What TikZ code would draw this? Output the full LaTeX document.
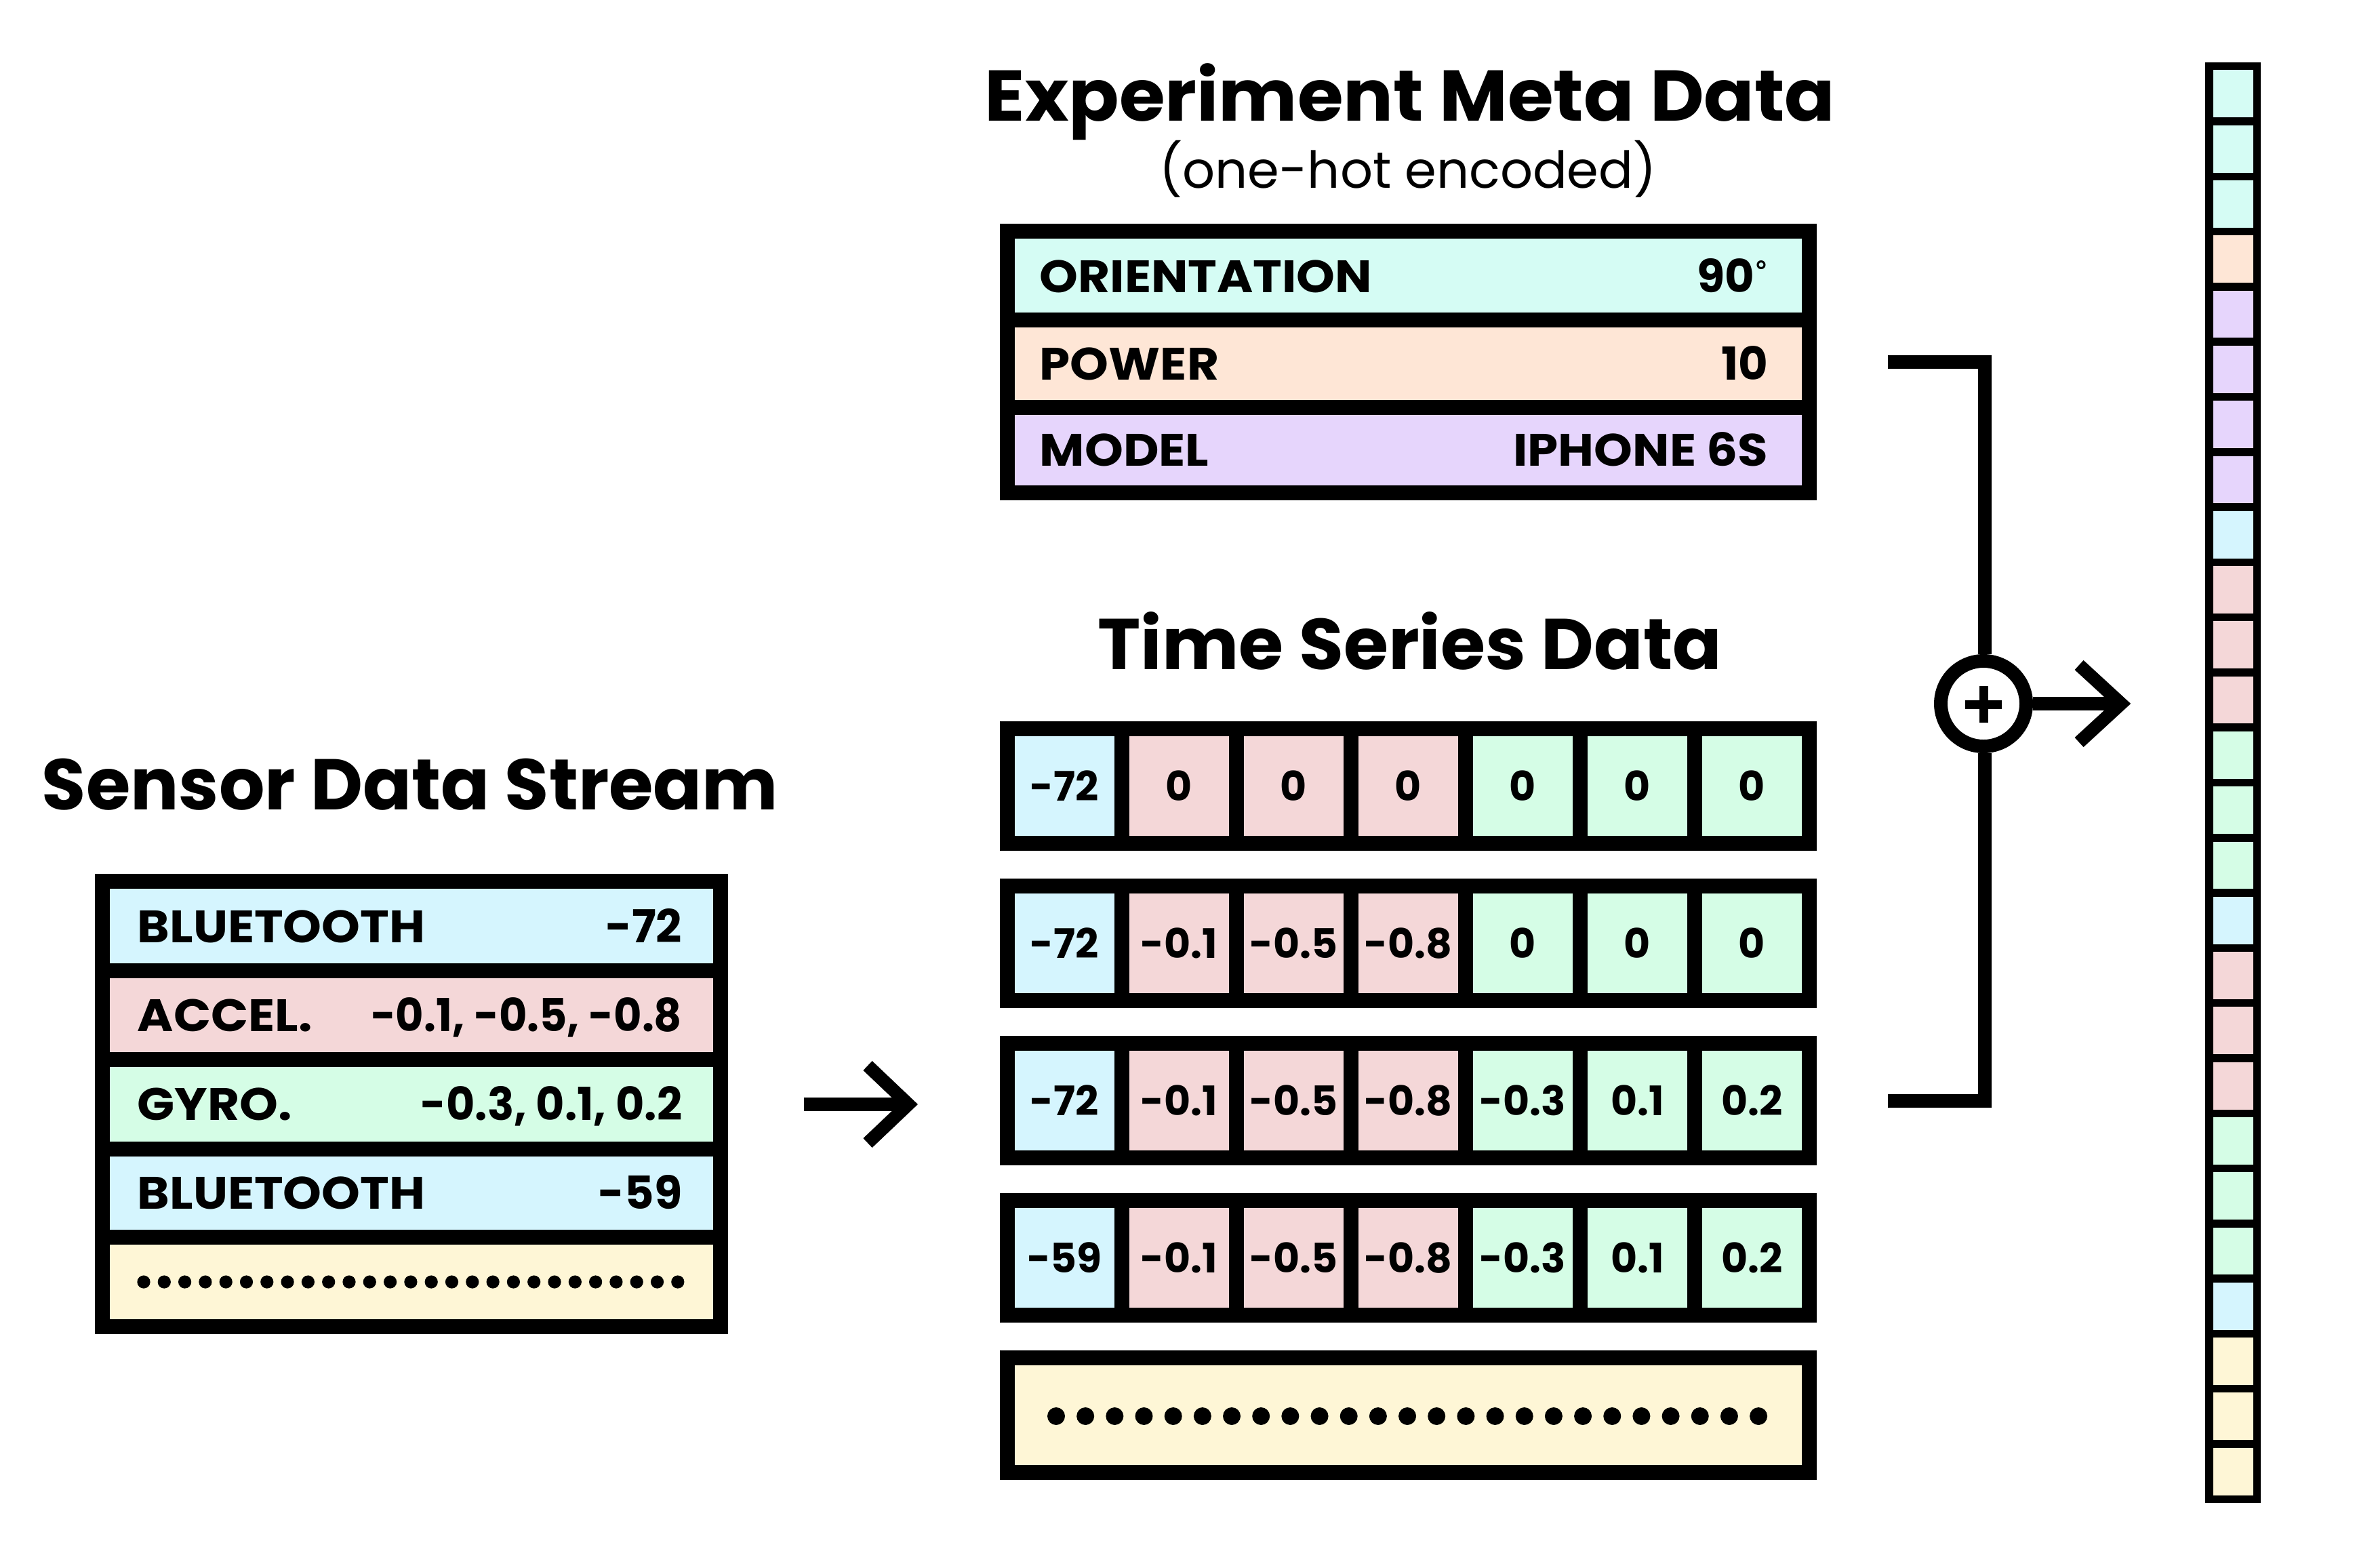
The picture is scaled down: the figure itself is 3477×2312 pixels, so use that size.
\documentclass[tikz,border=0pt]{standalone}
\usepackage{fontspec}
\setmainfont{Poppins}
\newfontfamily\degfont{DejaVu Sans}
\definecolor{mint}{HTML}{D5FCF4}
\definecolor{peach}{HTML}{FEE6D6}
\definecolor{lav}{HTML}{E6D5FC}
\definecolor{sky}{HTML}{D5F5FE}
\definecolor{pinkc}{HTML}{F4D7D8}
\definecolor{greenc}{HTML}{D5FDE6}
\definecolor{yellowc}{HTML}{FEF6D6}
\newcommand{\wide}[1]{\scalebox{1.08}[1]{#1}}
\begin{document}
\begin{tikzpicture}[x=0.25pt,y=-0.25pt,
  box/.style={draw=black, line width=5.5pt, line join=miter},
  barcell/.style={draw=black, line width=2.875pt},
  conn/.style={draw=black, line width=5pt, line join=miter, line cap=butt},
  ttl/.style={font=\bfseries\fontsize{26.5}{30}\selectfont, inner sep=0pt, anchor=base},
  subt/.style={font=\fontsize{18.8}{22}\selectfont, inner sep=0pt, anchor=base},
  lbl/.style={font=\bfseries\fontsize{16.75}{20}\selectfont, inner sep=0pt},
  val/.style={font=\bfseries\fontsize{15}{18}\selectfont, inner sep=0pt, anchor=base},
]
\useasboundingbox[fill=white] (0,0) rectangle (3477,2312);

% ---------- titles ----------
\node[ttl] (tsensor) at (605,1194) {Sensor Data Stream};
\node[ttl] (tmeta) at (2080,179) {\scalebox{1.035}[1]{Experiment Meta Data}};
\node[subt] (tsub) at (2077,278) {(one-hot encoded)};
\node[ttl] (tts) at (2080,987) {\scalebox{1.01}[1]{Time Series Data}};

% ---------- sensor box ----------
\draw[box, fill=sky]     (151,1300) rectangle (1063,1431.5);
\draw[box, fill=pinkc]   (151,1431.5) rectangle (1063,1562.5);
\draw[box, fill=greenc]  (151,1562.5) rectangle (1063,1694.5);
\draw[box, fill=sky]     (151,1694.5) rectangle (1063,1824.5);
\draw[box, fill=yellowc] (151,1824.5) rectangle (1063,1957);
\node[lbl, anchor=base west] (s1l) at (202,1390) {\wide{BLUETOOTH}};
\node[lbl, anchor=base east] (s1r) at (1007,1390) {-72};
\node[lbl, anchor=base west] (s2l) at (202,1521) {\wide{ACCEL.}};
\node[lbl, anchor=base east] (s2r) at (1007,1521) {\scalebox{0.95}[1]{-0.1, -0.5, -0.8}};
\node[lbl, anchor=base west] (s3l) at (202,1652) {\wide{GYRO.}};
\node[lbl, anchor=base east] (s3r) at (1007,1652) {\scalebox{0.97}[1]{-0.3, 0.1, 0.2}};
\node[lbl, anchor=base west] (s4l) at (202,1783) {\wide{BLUETOOTH}};
\node[lbl, anchor=base east] (s4r) at (1007,1783) {-59};
\foreach \k in {0,...,26} {
  \fill ({212+30.3*\k},1891) circle[radius=2.4pt];
}

% ---------- meta box ----------
\draw[box, fill=mint]  (1486,341) rectangle (2669,472);
\draw[box, fill=peach] (1486,472) rectangle (2669,601);
\draw[box, fill=lav]   (1486,601) rectangle (2669,727);
\node[lbl, anchor=base west] (m1l) at (1533,431) {\wide{ORIENTATION}};
\node[lbl, anchor=base east] (m1r) at (2609,431) {90\raisebox{0.25em}{\degfont\fontsize{10}{10}\selectfont °}};
\node[lbl, anchor=base west] (m2l) at (1533,560) {\wide{POWER}};
\node[lbl, anchor=base east] (m2r) at (2609,560) {10};
\node[lbl, anchor=base west] (m3l) at (1533,687) {\wide{MODEL}};
\node[lbl, anchor=base east] (m3r) at (2609,687) {\wide{IPHONE 6S}};

% ---------- time series rows ----------
\foreach \vals [count=\i from 0] in {{-72,0,0,0,0,0,0},{-72,-0.1,-0.5,-0.8,0,0,0},{-72,-0.1,-0.5,-0.8,-0.3,0.1,0.2},{-59,-0.1,-0.5,-0.8,-0.3,0.1,0.2}} {
  \foreach \v [count=\j from 0] in \vals {
    \pgfmathsetmacro\cc{{"sky","pinkc","pinkc","pinkc","greenc","greenc","greenc"}[\j]}
    \draw[box, fill=\cc] ({1486+169*\j},{1075+232*\i}) rectangle ++(169,169);
    \node[val] (ts\i-\j) at ({1570.5+169*\j},{1181+232*\i}) {\v};
  }
}
\draw[box, fill=yellowc] (1486,2003) rectangle (2669,2172);
\foreach \k in {0,...,24} {
  \fill ({1558+43.17*\k},2089) circle[radius=3.25pt];
}

% ---------- left arrow ----------
\coordinate (a1s) at (1186,1629);
\coordinate (a1t) at (1340,1629);
\coordinate (a1u) at (1280,1572);
\coordinate (a1d) at (1280,1686);
\draw[conn] (a1s) -- (a1t);
\draw[conn, line width=4.8pt] (a1u) -- (a1t) -- (a1d);

% ---------- concat ----------
\node[circle, draw=black, line width=5pt, minimum size=31.5pt, inner sep=0pt, fill=white] (plus) at (2926,1038) {};
\draw[line width=3.25pt] (2899,1039) -- (2953,1039);
\draw[line width=3.25pt] (2926,1012) -- (2926,1066);
\coordinate (bt) at (2785,534);
\coordinate (bb) at (2785,1624);
\draw[conn] (bt) -- (2928,534) -- (2928,965);
\draw[conn] (bb) -- (2928,1624) -- (2928,1111);
\coordinate (a2t) at (3129,1038);
\coordinate (a2u) at (3067,981);
\coordinate (a2d) at (3067,1095);
\draw[conn] (plus.east) -- (a2t);
\draw[conn, line width=4.8pt] (a2u) -- (a2t) -- (a2d);

% ---------- output vector ----------
\foreach \cc [count=\k from 0] in {mint,mint,mint,peach,lav,lav,lav,lav,sky,pinkc,pinkc,pinkc,greenc,greenc,greenc,sky,pinkc,pinkc,pinkc,greenc,greenc,greenc,sky,yellowc,yellowc,yellowc} {
  \draw[barcell, fill=\cc] (3258.75,{97.75+81.29*\k}) rectangle ++(70.5,81.29);
}
\end{tikzpicture}
\end{document}
